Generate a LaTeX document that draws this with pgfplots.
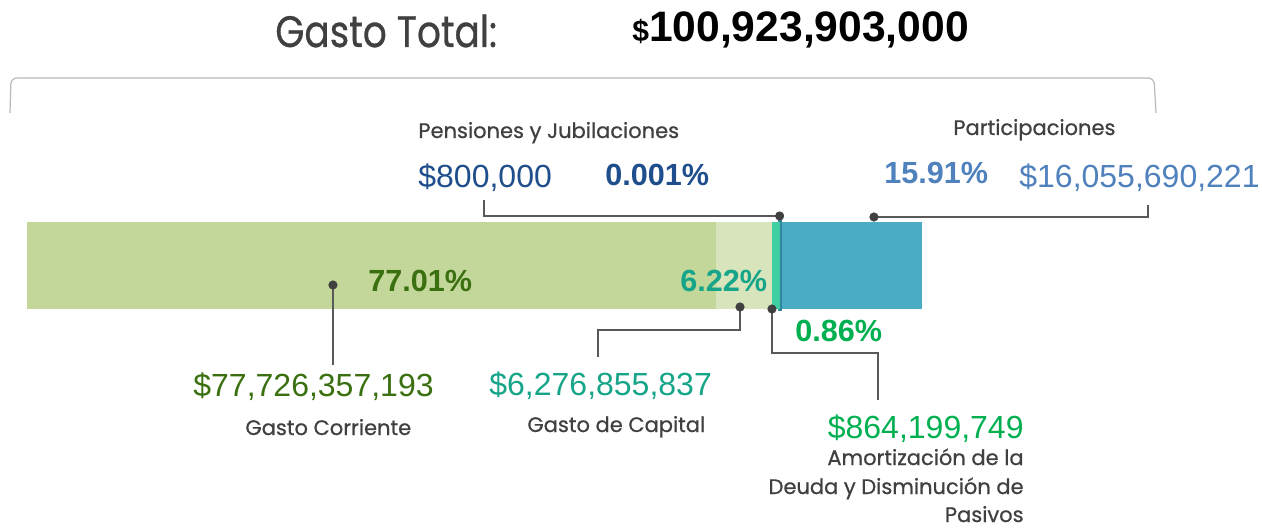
\documentclass[border=0pt]{standalone}
\usepackage{pgfplots}
\pgfplotsset{compat=1.18}
\usepackage{fontspec}
\setmainfont{Liberation Sans}
\newfontfamily\geo{Poppins}[FakeBold=0.7]

\definecolor{segA}{HTML}{C4D79B}
\definecolor{segB}{HTML}{D8E4BC}
\definecolor{segC}{HTML}{3FCFA2}
\definecolor{segD}{HTML}{31859C}
\definecolor{segE}{HTML}{4BACC6}
\definecolor{txA}{HTML}{3A7010}
\definecolor{txB}{HTML}{16A589}
\definecolor{txC}{HTML}{00B050}
\definecolor{txD}{HTML}{1F4E8C}
\definecolor{txE}{HTML}{4F81BD}
\definecolor{lbl}{HTML}{404040}
\definecolor{lead}{HTML}{595959}

\begin{document}
\begin{tikzpicture}
% the bar: one stacked row, values in billions of pesos
\begin{axis}[
  at={(0,0)}, anchor=north west,
  scale only axis, width=631pt, height=264.5pt,
  xmin=-3.0446, xmax=139.26, ymin=0, ymax=529,
  y dir=reverse, hide axis, clip=false,
  xbar stacked, bar width=87,
]
\addplot[fill=segA, draw=none] coordinates {(77.726357193,265.5)};
\addplot[fill=segB, draw=none] coordinates {(6.276855837,265.5)};
\addplot[fill=segC, draw=none] coordinates {(0.864199749,265.5)};
\addplot[fill=segD, draw=segD, line width=2pt] coordinates {(0.0008,265.5)};
\addplot[fill=segE, draw=none] coordinates {(16.055690221,265.5)};
% chamfer on the bar's end
\fill[white] (axis cs:100.924,221) -- (axis cs:99.98,221) -- (axis cs:100.924,230) -- cycle;
\coordinate (pc) at (axis cs:34.5,285);
\coordinate (pk) at (axis cs:80.40,307);
\coordinate (pa) at (axis cs:84.003,309);
\coordinate (pp) at (axis cs:84.868,216);
\coordinate (pt) at (axis cs:95.5,217);
\end{axis}

\begin{scope}[x=0.5pt, y=-0.5pt]
\useasboundingbox (0,0) rectangle (1262,529);

% title
\node[anchor=base west, inner sep=0pt, text=lbl, xscale=0.85] at (275,47)
  {\geo\fontsize{22}{24}\selectfont Gasto Total:};
\node[anchor=base west, inner sep=0pt] at (632,42)
  {\bfseries{\fontsize{15}{16}\selectfont\$}\fontsize{21.3}{23}\selectfont 100,923,903,000};

% bracket
\draw[gray!55, line width=0.6pt, rounded corners=3pt] (10,113) -- (11,78) -- (1154,78) -- (1156,113);

% leader lines
\begin{scope}[draw=lead, line width=0.7pt]
\draw (pc) -- ++(0,80);
\draw (pk) |- (598,330) -- (598,357);
\draw (pa) |- (878,353) -- (878,400);
\draw (484,200) |- (pp);
\draw (pt) -| (1148,205);
\end{scope}
\foreach \p in {pc,pk,pa,pp,pt} \fill[lbl] (\p) circle[radius=2.3pt];

% percentages
\node[anchor=base west, inner sep=0pt, text=txA] at (368,291) {\bfseries\fontsize{15.3}{16}\selectfont 77.01\%};
\node[anchor=base west, inner sep=0pt, text=txB] at (680,291) {\bfseries\fontsize{15.3}{16}\selectfont 6.22\%};
\node[anchor=base west, inner sep=0pt, text=txC] at (795,341) {\bfseries\fontsize{15.3}{16}\selectfont 0.86\%};
\node[anchor=base west, inner sep=0pt, text=txD] at (605,186) {\bfseries\fontsize{15.3}{16}\selectfont 0.001\%};
\node[anchor=base west, inner sep=0pt, text=txE] at (884,184) {\bfseries\fontsize{15.3}{16}\selectfont 15.91\%};

% amounts
\node[anchor=base west, inner sep=0pt, text=txA] at (193,396) {\fontsize{16}{18}\selectfont\$77,726,357,193};
\node[anchor=base west, inner sep=0pt, text=txB] at (489,395) {\fontsize{16}{18}\selectfont\$6,276,855,837};
\node[anchor=base east, inner sep=0pt, text=txC] at (1024,438) {\fontsize{16}{18}\selectfont\$864,199,749};
\node[anchor=base west, inner sep=0pt, text=txD] at (418,188) {\fontsize{16}{18}\selectfont\$800,000};
\node[anchor=base east, inner sep=0pt, text=txE] at (1260,188) {\fontsize{16}{18}\selectfont\$16,055,690,221};

% category labels
\begin{scope}[every node/.style={inner sep=0pt, text=lbl, font=\geo\fontsize{10.5}{12}\selectfont}]
\node[anchor=base west] at (418,138) {Pensiones y Jubilaciones};
\node[anchor=base west] at (953,135) {Participaciones};
\node[anchor=base west] at (245,435) {Gasto Corriente};
\node[anchor=base west] at (527,432) {Gasto de Capital};
\node[anchor=base east] at (1024,465) {Amortización de la};
\node[anchor=base east] at (1024,494) {Deuda y Disminución de};
\node[anchor=base east] at (1024,522) {Pasivos};
\end{scope}
\end{scope}
\end{tikzpicture}
\end{document}
